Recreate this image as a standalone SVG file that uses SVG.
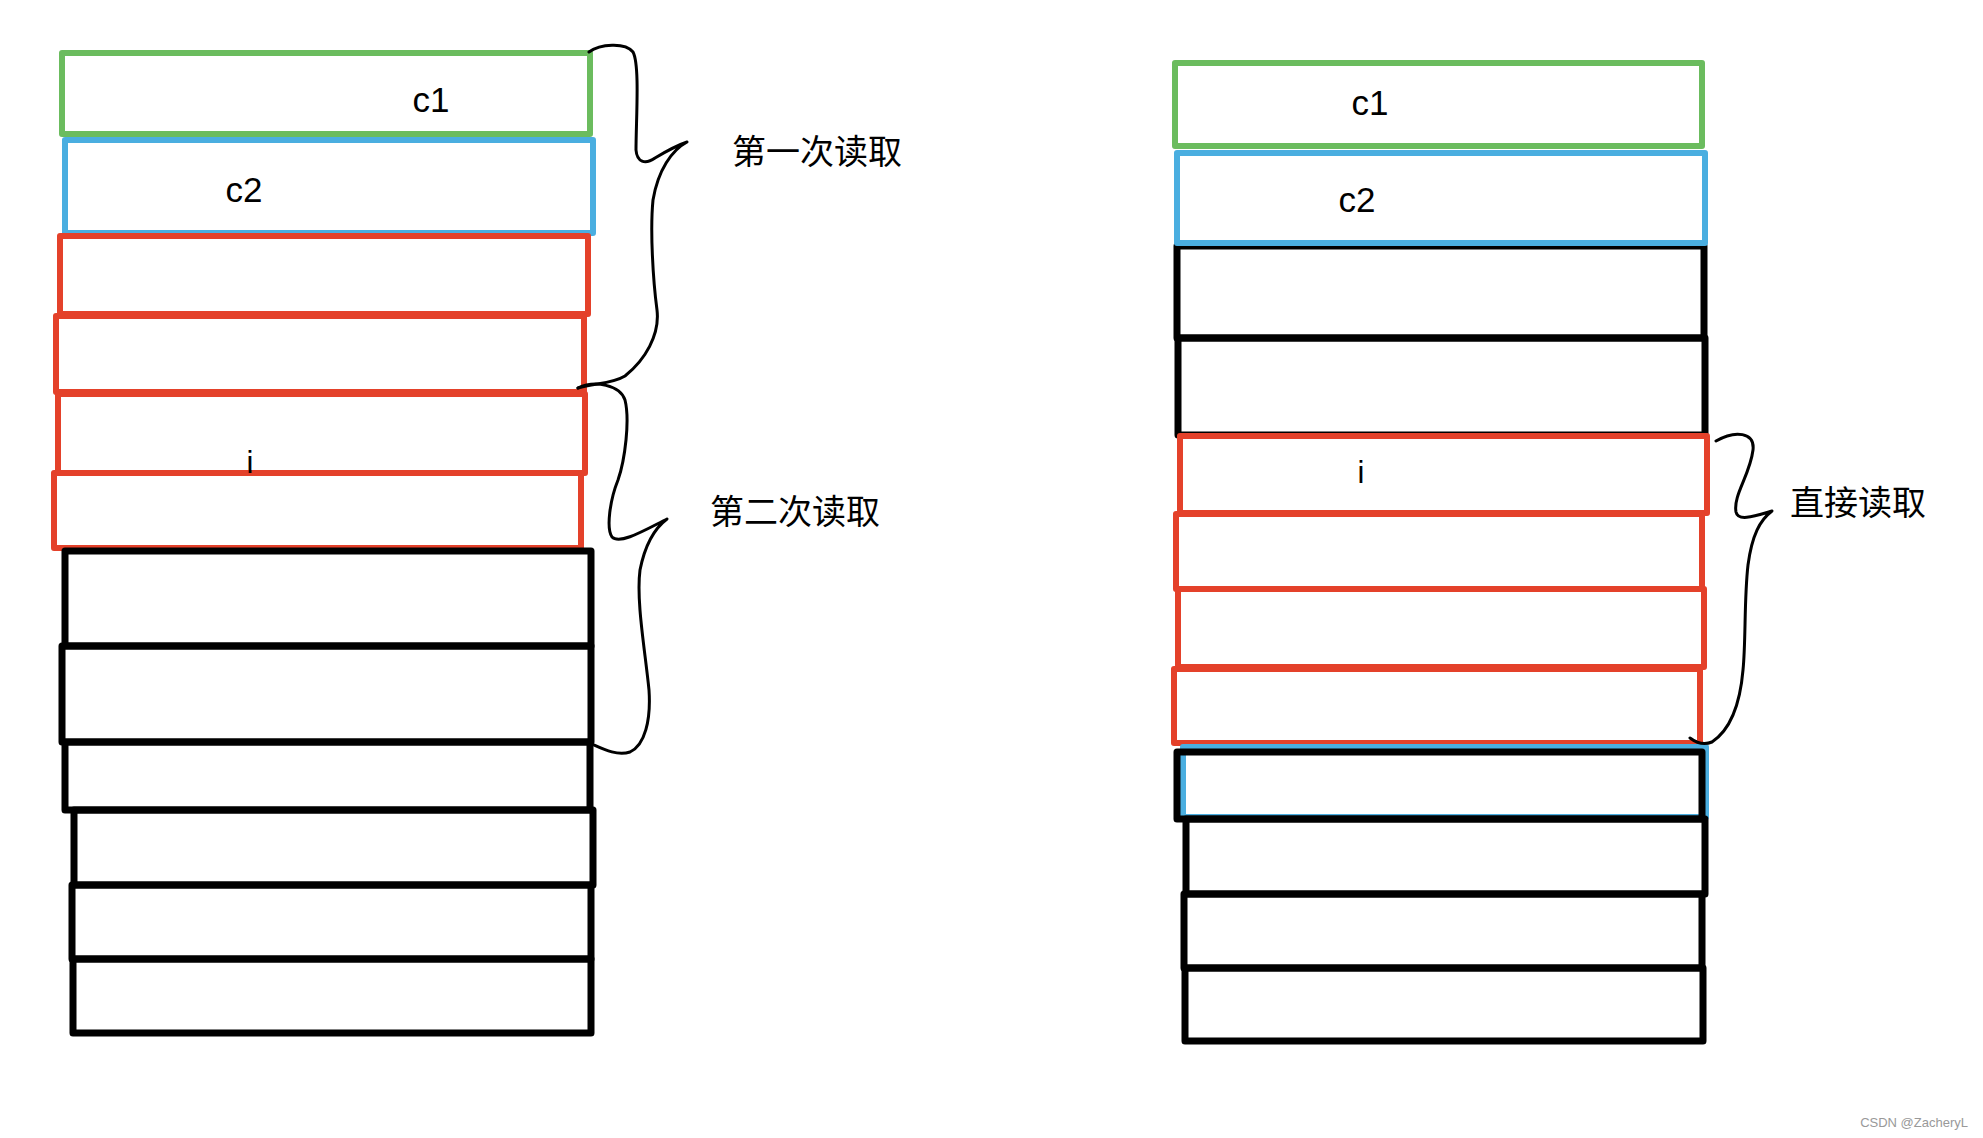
<svg xmlns="http://www.w3.org/2000/svg" width="1983" height="1138" viewBox="0 0 1983 1138">
<style>
.cell{fill:none;stroke-width:6;stroke-linejoin:round}
.g{stroke:#6bbc5e}
.b{stroke:#4aaee0}
.r{stroke:#e4412a}
.k{stroke:#000;stroke-width:7}
.lbl{font-family:"Liberation Sans","Noto Sans",sans-serif;font-size:35px;fill:#000;text-anchor:middle}
.sm{font-size:31px}
.cjk{font-family:"Noto Sans CJK SC","Noto Sans",sans-serif;font-size:34px;fill:#000}
.brace{fill:none;stroke:#000;stroke-width:3;stroke-linecap:round;stroke-linejoin:round}
</style>
<rect width="1983" height="1138" fill="#fff"/>
<g id="left-stack">
<g id="L1"><rect class="cell g" x="62" y="53" width="528" height="81"/><text class="lbl" x="431" y="112">c1</text></g>
<g id="L2"><rect class="cell b" x="65" y="140" width="528" height="93"/><text class="lbl" x="244" y="202">c2</text></g>
<g id="L3"><rect class="cell r" x="60" y="236" width="528" height="78"/></g>
<g id="L4"><rect class="cell r" x="56" y="316" width="528" height="76"/></g>
<g id="L5"><rect class="cell r" x="58" y="394" width="527" height="79"/></g>
<g id="L6"><rect class="cell r" x="54" y="473" width="527" height="75"/></g>
<text class="lbl sm" x="250" y="473">i</text>
<g id="L7"><rect class="cell k" x="65" y="551" width="526" height="95"/></g>
<g id="L8"><rect class="cell k" x="62" y="646" width="529" height="96"/></g>
<g id="L9"><rect class="cell k" x="65" y="742" width="525" height="68"/></g>
<g id="L10"><rect class="cell k" x="74" y="810" width="519" height="75"/></g>
<g id="L11"><rect class="cell k" x="72" y="885" width="519" height="74"/></g>
<g id="L12"><rect class="cell k" x="73" y="959" width="518" height="74"/></g>
</g>
<g id="right-stack">
<g id="R1"><rect class="cell g" x="1175" y="63" width="527" height="83"/><text class="lbl" x="1370" y="115">c1</text></g>
<g id="R3"><rect class="cell k" x="1177" y="246" width="527" height="92"/></g>
<g id="R2"><rect class="cell b" x="1177" y="153" width="528" height="90"/><text class="lbl" x="1357" y="212">c2</text></g>
<g id="R4"><rect class="cell k" x="1178" y="338" width="527" height="97"/></g>
<g id="R5"><rect class="cell r" x="1180" y="436" width="527" height="77"/><text class="lbl sm" x="1361" y="483">i</text></g>
<g id="R6"><rect class="cell r" x="1176" y="514" width="526" height="75"/></g>
<g id="R7"><rect class="cell r" x="1178" y="589" width="526" height="78"/></g>
<g id="R8"><rect class="cell r" x="1174" y="669" width="526" height="74"/></g>
<g id="R9"><rect class="cell b" x="1183" y="747" width="523" height="70"/><rect class="cell k" x="1177" y="752" width="525" height="67"/></g>
<g id="R10"><rect class="cell k" x="1186" y="819" width="519" height="75"/></g>
<g id="R11"><rect class="cell k" x="1184" y="894" width="518" height="74"/></g>
<g id="R12"><rect class="cell k" x="1185" y="968" width="518" height="73"/></g>
</g>
<g id="connectors">
<path class="brace" d="M589,52 C600,44 625,42 633,52 C640,65 636,120 636,150 C637,162 645,165 655,158 C665,152 678,145 687,142 C672,150 658,170 653,200 C650,230 653,280 657,310 C660,335 645,360 625,376 C612,384 595,383 578,388"/>
<path class="brace" d="M578,388 C595,380 620,385 625,400 C630,420 625,460 618,480 C610,500 606,528 612,537 C620,545 645,530 667,519 C655,528 645,545 640,570 C636,600 645,650 649,690 C651,720 645,745 630,752 C618,756 605,750 594,745"/>
<path class="brace" d="M1716,441 C1735,430 1755,432 1753,450 C1750,475 1733,495 1736,512 C1738,522 1755,516 1772,511 C1760,520 1752,535 1748,565 C1744,600 1746,640 1743,670 C1740,705 1730,730 1712,742 C1705,745 1698,744 1690,738"/>
</g>
<g id="labels">
<text class="cjk" x="732" y="164">第一次读取</text>
<text class="cjk" x="710" y="524">第二次读取</text>
<text class="cjk" x="1790" y="515">直接读取</text>
</g>
<text x="1968" y="1127" font-family="Liberation Sans, sans-serif" font-size="13" fill="#999" text-anchor="end">CSDN @ZacheryL</text>
</svg>
